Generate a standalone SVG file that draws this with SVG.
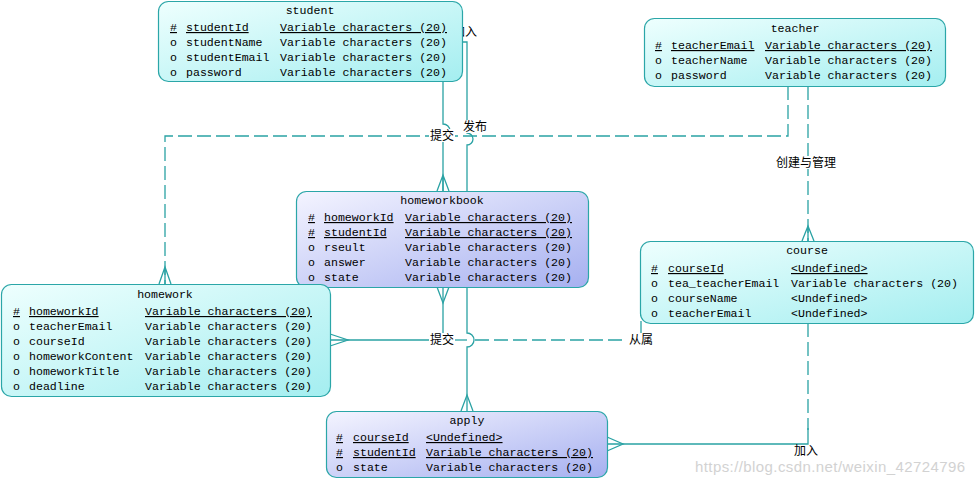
<svg xmlns="http://www.w3.org/2000/svg" width="975" height="479" viewBox="0 0 975 479">
<defs>
<linearGradient id="gc" x1="0" y1="0" x2="1" y2="1">
<stop offset="0" stop-color="#eefffe"/>
<stop offset="1" stop-color="#a4eef0"/>
</linearGradient>
<linearGradient id="gl" x1="0" y1="0" x2="1" y2="1">
<stop offset="0" stop-color="#f4f4ff"/>
<stop offset="1" stop-color="#a6b0f0"/>
</linearGradient>
<style>
.box{stroke:#2ba6a8;stroke-width:1.2}
.cy{fill:url(#gc)}
.lv{fill:url(#gl)}
.t{font-family:"Liberation Mono","DejaVu Sans Mono",monospace;font-size:11.6px;fill:#000}
.ti{text-anchor:middle}
.u{text-decoration:underline}
.ln{fill:none;stroke:#2aa2a4;stroke-width:1.3}
.da{stroke-dasharray:14 5}
.lb{font-family:"Noto Sans CJK SC","Liberation Sans",sans-serif;font-size:12px;fill:#000;text-anchor:middle}
.bg{fill:#fff}
.wm{font-family:"Liberation Sans",Arial,sans-serif;font-size:15px;fill:#c8c8c8;opacity:0.8}
</style>
</defs>
<rect width="975" height="479" fill="#fff"/>

<g id="connectors">
<!-- student -> homeworkbook 提交 -->
<path class="ln" d="M443,81 V124 A7,7 0 0 1 443,138 V191"/>
<path class="ln" d="M437,191 L443,175 L449,191 M443,175 V191"/>
<!-- student -> apply 加入 -->
<path class="ln" d="M462,42 H467 V133 A6,6 0 0 1 467,145 V333 A7,7 0 0 1 467,347 V411"/>
<path class="ln" d="M461,411 L467,395 L473,411"/>
<!-- teacher -> homework 发布 -->
<path class="ln da" d="M788,86 V136 H165 V284"/>
<path class="ln" d="M159,284 L165,267 L171,284 M165,267 V284"/>
<!-- teacher -> course 创建与管理 -->
<path class="ln da" d="M808,86 V241"/>
<path class="ln" d="M802,241 L808,226 L814,241 M808,226 V241"/>
<!-- homework <-> homeworkbook 提交 -->
<path class="ln" d="M443,287 V340 H330"/>
<path class="ln" d="M437,287 L443,303 L449,287"/>
<path class="ln" d="M330,334 L348,340 L330,346"/>
<!-- homework <-> course 从属 -->
<path class="ln" d="M443,340 H467"/>
<path class="ln da" d="M475,340 H641 V312"/>
<!-- course -> apply 加入 -->
<path class="ln da" d="M808,323 V430"/>
<path class="ln" d="M808,428 V444 H607"/>
<path class="ln" d="M607,437 L623,444 L607,451"/>

<rect class="bg" x="429" y="129" width="26" height="13"/>
<text class="lb" x="442" y="140">提交</text>
<rect class="bg" x="462" y="120" width="26" height="13"/>
<text class="lb" x="475" y="131">发布</text>
<rect class="bg" x="772" y="156" width="68" height="13"/>
<text class="lb" x="806" y="167">创建与管理</text>
<rect class="bg" x="429" y="333" width="26" height="13"/>
<text class="lb" x="442" y="344">提交</text>
<rect class="bg" x="627" y="333" width="28" height="13"/>
<text class="lb" x="641" y="344">从属</text>
<text class="lb" x="806" y="455">加入</text>
<text class="lb" x="465" y="36">加入</text>
</g>

<g id="student">
<rect class="box cy" x="158.5" y="1.5" width="304" height="80" rx="10"/>
<text class="t ti" x="310" y="14">student</text>
<text class="t" y="31"><tspan class="u" x="170">#</tspan><tspan class="u" x="186">studentId</tspan><tspan class="u" x="280">Variable characters (20)</tspan></text>
<text class="t" y="46"><tspan x="170">o</tspan><tspan x="186">studentName</tspan><tspan x="280">Variable characters (20)</tspan></text>
<text class="t" y="61"><tspan x="170">o</tspan><tspan x="186">studentEmail</tspan><tspan x="280">Variable characters (20)</tspan></text>
<text class="t" y="76"><tspan x="170">o</tspan><tspan x="186">password</tspan><tspan x="280">Variable characters (20)</tspan></text>
</g>

<g id="teacher">
<rect class="box cy" x="644.5" y="18.5" width="301" height="68" rx="10"/>
<text class="t ti" x="795" y="32">teacher</text>
<text class="t" y="49"><tspan class="u" x="655">#</tspan><tspan class="u" x="671">teacherEmail</tspan><tspan class="u" x="765">Variable characters (20)</tspan></text>
<text class="t" y="64"><tspan x="655">o</tspan><tspan x="671">teacherName</tspan><tspan x="765">Variable characters (20)</tspan></text>
<text class="t" y="79"><tspan x="655">o</tspan><tspan x="671">password</tspan><tspan x="765">Variable characters (20)</tspan></text>
</g>

<g id="homeworkbook">
<rect class="box lv" x="296.5" y="191.5" width="292" height="96" rx="10"/>
<text class="t ti" x="442" y="204">homeworkbook</text>
<text class="t" y="221"><tspan class="u" x="308">#</tspan><tspan class="u" x="324">homeworkId</tspan><tspan class="u" x="405">Variable characters (20)</tspan></text>
<text class="t" y="236"><tspan class="u" x="308">#</tspan><tspan class="u" x="324">studentId</tspan><tspan class="u" x="405">Variable characters (20)</tspan></text>
<text class="t" y="251"><tspan x="308">o</tspan><tspan x="324">rseult</tspan><tspan x="405">Variable characters (20)</tspan></text>
<text class="t" y="266"><tspan x="308">o</tspan><tspan x="324">answer</tspan><tspan x="405">Variable characters (20)</tspan></text>
<text class="t" y="281"><tspan x="308">o</tspan><tspan x="324">state</tspan><tspan x="405">Variable characters (20)</tspan></text>
</g>

<g id="homework">
<rect class="box cy" x="1.5" y="284.5" width="329" height="112" rx="10"/>
<text class="t ti" x="165" y="298">homework</text>
<text class="t" y="315"><tspan class="u" x="13">#</tspan><tspan class="u" x="29">homeworkId</tspan><tspan class="u" x="145">Variable characters (20)</tspan></text>
<text class="t" y="330"><tspan x="13">o</tspan><tspan x="29">teacherEmail</tspan><tspan x="145">Variable characters (20)</tspan></text>
<text class="t" y="345"><tspan x="13">o</tspan><tspan x="29">courseId</tspan><tspan x="145">Variable characters (20)</tspan></text>
<text class="t" y="360"><tspan x="13">o</tspan><tspan x="29">homeworkContent</tspan><tspan x="145">Variable characters (20)</tspan></text>
<text class="t" y="375"><tspan x="13">o</tspan><tspan x="29">homeworkTitle</tspan><tspan x="145">Variable characters (20)</tspan></text>
<text class="t" y="390"><tspan x="13">o</tspan><tspan x="29">deadline</tspan><tspan x="145">Variable characters (20)</tspan></text>
</g>

<g id="course">
<rect class="box cy" x="640.5" y="241.5" width="333" height="82" rx="10"/>
<text class="t ti" x="807" y="254">course</text>
<text class="t" y="272"><tspan class="u" x="651">#</tspan><tspan class="u" x="668">courseId</tspan><tspan class="u" x="791">&lt;Undefined&gt;</tspan></text>
<text class="t" y="287"><tspan x="651">o</tspan><tspan x="668">tea_teacherEmail</tspan><tspan x="791">Variable characters (20)</tspan></text>
<text class="t" y="302"><tspan x="651">o</tspan><tspan x="668">courseName</tspan><tspan x="791">&lt;Undefined&gt;</tspan></text>
<text class="t" y="317"><tspan x="651">o</tspan><tspan x="668">teacherEmail</tspan><tspan x="791">&lt;Undefined&gt;</tspan></text>
</g>

<g id="apply">
<rect class="box lv" x="326.5" y="411.5" width="281" height="66" rx="10"/>
<text class="t ti" x="467" y="424">apply</text>
<text class="t" y="441"><tspan class="u" x="336">#</tspan><tspan class="u" x="353">courseId</tspan><tspan class="u" x="426">&lt;Undefined&gt;</tspan></text>
<text class="t" y="456"><tspan class="u" x="336">#</tspan><tspan class="u" x="353">studentId</tspan><tspan class="u" x="426">Variable characters (20)</tspan></text>
<text class="t" y="471"><tspan x="336">o</tspan><tspan x="353">state</tspan><tspan x="426">Variable characters (20)</tspan></text>
</g>

<text class="wm" x="695" y="472" textLength="270">https://blog.csdn.net/weixin_42724796</text>
</svg>
